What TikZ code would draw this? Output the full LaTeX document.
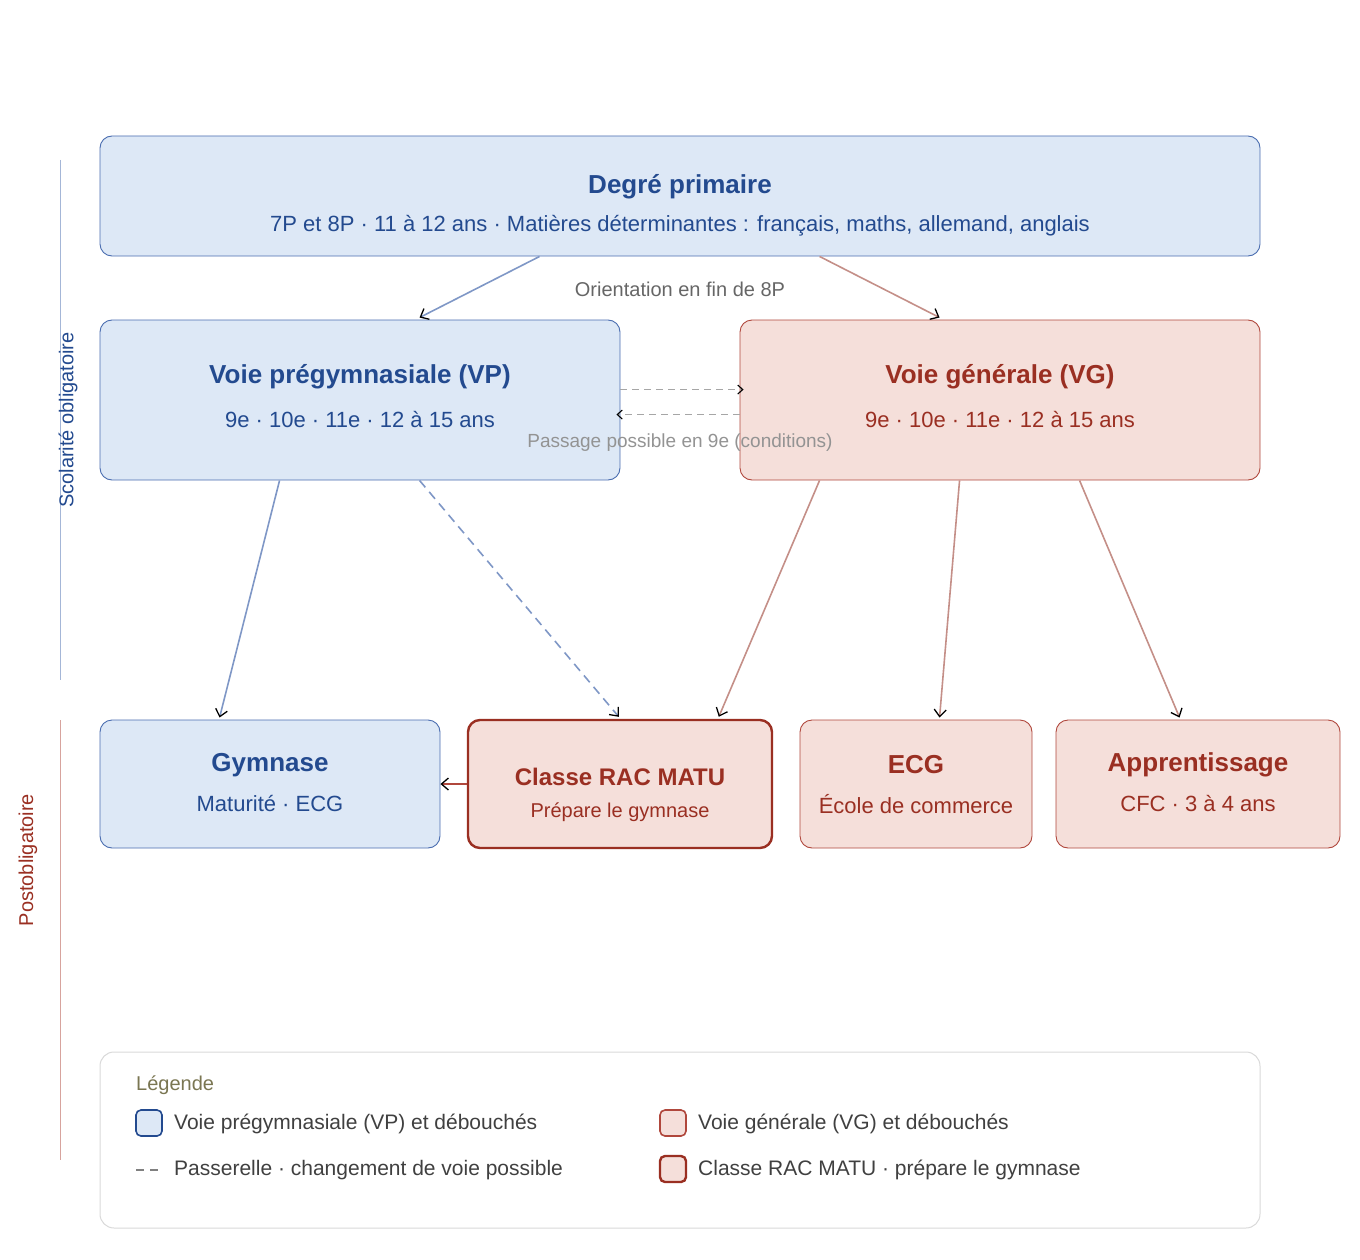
\documentclass[tikz,border=0pt]{standalone}
\usepackage{fontspec}
\setmainfont{Liberation Sans}
\usetikzlibrary{arrows.meta,calc}
\definecolor{bfill}{HTML}{DDE8F6}
\definecolor{bline}{HTML}{4A6DB0}
\definecolor{btext}{HTML}{234A8F}
\definecolor{rfill}{HTML}{F5DFDA}
\definecolor{rline}{HTML}{B0473C}
\definecolor{rtext}{HTML}{9A2F22}
\definecolor{barrow}{HTML}{7F97C6}
\definecolor{rarrow}{HTML}{C48F88}
\definecolor{gtext}{HTML}{666666}
\tikzset{
 box/.style={draw,rounded corners=12pt,line width=0.9pt,inner sep=0pt},
 bbox/.style={box,fill=bfill,draw=bline},
 rbox/.style={box,fill=rfill,draw=rline},
 ttl/.style={font=\fontsize{26}{30}\selectfont\bfseries,inner sep=0pt},
 sub/.style={font=\fontsize{22}{26}\selectfont,inner sep=0pt},
 arr/.style={line width=1.6pt,-{Straight Barb[length=7pt,width=12pt,line width=1.3pt,color=black]}},
 pass/.style={line width=1.3pt,draw=gray!70,dash pattern=on 7pt off 5pt,-{Straight Barb[length=5pt,width=9pt,line width=1.1pt,color=black]}},
}
\begin{document}
\begin{tikzpicture}[x=1pt,y=-1pt]
\useasboundingbox (0,0) rectangle (1360,1260);
% side bars
\draw[line width=1pt,draw=bline!50] (60,160) coordinate (sb1) -- (60,680) coordinate (sb2);
\node[rotate=90,text=btext,font=\fontsize{20}{24}\selectfont] (sl1) at (68,420) {Scolarité obligatoire};
\draw[line width=1pt,draw=rline!50] (60,720) coordinate (sr1) -- (60,1160) coordinate (sr2);
\node[rotate=90,text=rtext,font=\fontsize{20}{24}\selectfont] (sl2) at (28,860) {Postobligatoire};
% boxes
\node[bbox,minimum width=1160pt,minimum height=120pt] (prim) at (680,196) {};
\node[ttl,text=btext] (primt) at (680,187) {Degré primaire};
\node[sub,text=btext] (prims) at (680,226) {7P et 8P · 11 à 12 ans · Matières déterminantes : français, maths, allemand, anglais};
\node[bbox,minimum width=520pt,minimum height=160pt] (vp) at (360,400) {};
\node[ttl,text=btext] (vpt) at (360,377) {Voie prégymnasiale (VP)};
\node[sub,text=btext] (vps) at (360,420) {9e · 10e · 11e · 12 à 15 ans};
\node[rbox,minimum width=520pt,minimum height=160pt] (vg) at (1000,400) {};
\node[ttl,text=rtext] (vgt) at (1000,377) {Voie générale (VG)};
\node[sub,text=rtext] (vgs) at (1000,420) {9e · 10e · 11e · 12 à 15 ans};
\node[bbox,minimum width=340pt,minimum height=128pt] (gym) at (270,784) {};
\node[ttl,text=btext] (gymt) at (270,765) {Gymnase};
\node[sub,text=btext] (gyms) at (270,804) {Maturité · ECG};
\node[rbox,draw=rtext,line width=2.4pt,minimum width=304pt,minimum height=128pt] (rac) at (620,784) {};
\node[ttl,text=rtext,font=\fontsize{24}{28}\selectfont\bfseries] (ract) at (620,777) {Classe RAC MATU};
\node[sub,text=rtext,font=\fontsize{20}{24}\selectfont] (racs) at (620,812) {Prépare le gymnase};
\node[rbox,minimum width=232pt,minimum height=128pt] (ecg) at (916,784) {};
\node[ttl,text=rtext] (ecgt) at (916,765) {ECG};
\node[sub,text=rtext] (ecgs) at (916,804) {École de commerce};
\node[rbox,minimum width=284pt,minimum height=128pt] (app) at (1198,784) {};
\node[ttl,text=rtext] (appt) at (1198,765) {Apprentissage};
\node[sub,text=rtext] (apps) at (1198,804) {CFC · 3 à 4 ans};
% labels
\node[font=\fontsize{20}{24}\selectfont,text=gtext] (orl) at (680,289) {Orientation en fin de 8P};
% arrows
\draw[arr,draw=barrow] ($(prim.south west)+(440,0)$) -- ($(vp.north west)+(320,-2)$);
\draw[arr,draw=rarrow] ($(prim.south west)+(720,0)$) -- ($(vg.north west)+(200,-2)$);
\draw[arr,draw=barrow] ($(vp.south west)+(180,0)$) -- ($(gym.north west)+(120,-2)$);
\draw[arr,draw=barrow,dash pattern=on 9pt off 6pt] ($(vp.south west)+(320,0)$) -- ($(rac.north west)+(152,-2)$);
\draw[arr,draw=rarrow] ($(vg.south west)+(80,0)$) -- ($(rac.north west)+(252,-2)$);
\draw[arr,draw=rarrow] ($(vg.south west)+(220,0)$) -- ($(ecg.north west)+(140,-2)$);
\draw[arr,draw=rarrow] ($(vg.south west)+(340,0)$) -- ($(app.north west)+(124,-2)$);
\draw[arr,draw=rline] (rac.west) -- (gym.east);
\draw[pass] ($(vp.north east)+(0,70)$) -- ($(vg.north west)+(4,70)$);
\draw[pass] ($(vg.north west)+(0,95)$) -- ($(vp.north east)+(-4,95)$);
\node[font=\fontsize{19}{23}\selectfont,text=gray!85,fill=none] (pasl) at (680,443) {Passage possible en 9e (conditions)};
% legend
\node[draw=gray!30,line width=1pt,rounded corners=14pt,minimum width=1160pt,minimum height=176pt,fill=white] (leg) at (680,1140) {};
\node[anchor=west,font=\fontsize{20}{24}\selectfont,text=gray!60!olive!80!black,inner sep=0pt] (legt) at (136,1085) {Légende};
\node[bbox,line width=1.6pt,draw=btext,rounded corners=5pt,minimum width=26pt,minimum height=26pt] (lk1) at (149,1123) {};
\node[anchor=west,font=\fontsize{21}{25}\selectfont,text=black!75,inner sep=0pt] (lt1) at (174,1124) {Voie prégymnasiale (VP) et débouchés};
\coordinate (ld1) at (136,1170);
\coordinate (ld2) at (160,1170);
\draw[line width=1.3pt,draw=gray,dash pattern=on 8pt off 6pt] (ld1) -- (ld2);
\node[anchor=west,font=\fontsize{21}{25}\selectfont,text=black!75,inner sep=0pt] (lt2) at (174,1170) {Passerelle · changement de voie possible};
\node[rbox,line width=1.6pt,draw=rline,rounded corners=5pt,minimum width=26pt,minimum height=26pt] (lk3) at (673,1123) {};
\node[anchor=west,font=\fontsize{21}{25}\selectfont,text=black!75,inner sep=0pt] (lt3) at (698,1124) {Voie générale (VG) et débouchés};
\node[rbox,line width=2.4pt,draw=rtext,rounded corners=5pt,minimum width=26pt,minimum height=26pt] (lk4) at (673,1169) {};
\node[anchor=west,font=\fontsize{21}{25}\selectfont,text=black!75,inner sep=0pt] (lt4) at (698,1170) {Classe RAC MATU · prépare le gymnase};
\end{tikzpicture}
\end{document}
